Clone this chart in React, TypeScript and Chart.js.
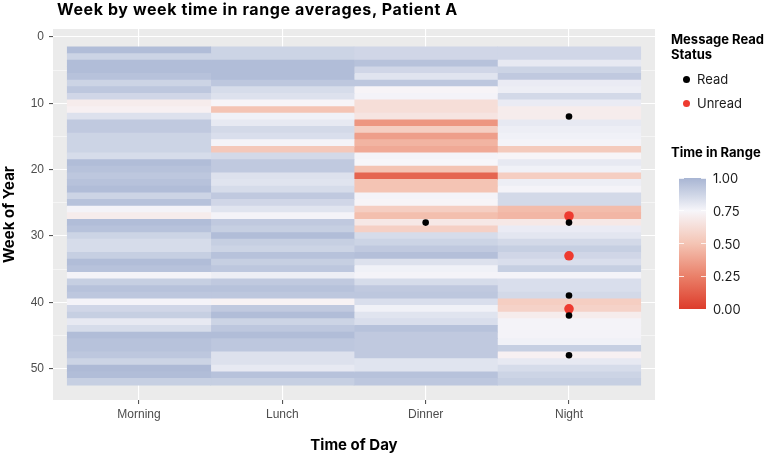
import React, { useEffect, useRef } from "react";
import { Chart, registerables } from "chart.js";

Chart.register(...registerables);

const chartTitle = "Week by week time in range averages, Patient A";
const categories = ["Morning", "Lunch", "Dinner", "Night"];
const weeks = [
  2, 3, 4, 5, 6, 7, 8, 9, 10, 11,
  12, 13, 14, 15, 16, 17, 18, 19, 20, 21,
  22, 23, 24, 25, 26, 27, 28, 29, 30, 31,
  32, 33, 34, 35, 36, 37, 38, 39, 40, 41,
  42, 43, 44, 45, 46, 47, 48, 49, 50, 51,
  52,
];
const morning = [
  0.97, 0.88, 0.97, 0.97, 0.95, 0.88, 0.93, 0.87, 0.70, 0.72,
  0.83, 0.92, 0.92, 0.88, 0.88, 0.88, 0.85, 0.97, 0.95, 0.93,
  0.95, 0.97, 0.88, 0.95, 0.76, 0.70, 0.97, 0.95, 0.88, 0.85,
  0.85, 0.90, 0.97, 0.95, 0.76, 0.90, 0.95, 0.93, 0.76, 0.87,
  0.90, 0.80, 0.85, 0.97, 0.95, 0.95, 0.93, 0.88, 0.98, 0.97,
  0.90,
];
const lunch = [
  0.88, 0.88, 0.97, 0.97, 0.97, 0.93, 0.85, 0.83, 0.74, 0.50,
  0.77, 0.80, 0.86, 0.84, 0.76, 0.52, 0.86, 0.92, 0.92, 0.83,
  0.82, 0.85, 0.92, 0.87, 0.82, 0.76, 0.92, 0.90, 0.97, 0.90,
  0.88, 0.95, 0.90, 0.93, 0.78, 0.92, 0.95, 0.93, 0.73, 0.92,
  0.97, 0.88, 0.93, 0.97, 0.93, 0.93, 0.83, 0.83, 0.80, 0.95,
  0.90,
];
const dinner = [
  0.87, 0.87, 0.95, 0.87, 0.82, 0.93, 0.74, 0.76, 0.63, 0.63,
  0.66, 0.33, 0.55, 0.36, 0.44, 0.40, 0.76, 0.75, 0.50, 0.15,
  0.50, 0.50, 0.76, 0.74, 0.55, 0.48, 0.68, 0.56, 0.85, 0.88,
  0.92, 0.96, 0.83, 0.77, 0.76, 0.85, 0.92, 0.93, 0.84, 0.77,
  0.82, 0.84, 0.95, 0.92, 0.92, 0.92, 0.92, 0.82, 0.82, 0.95,
  0.93,
];
const night = [
  0.87, 0.87, 0.80, 0.88, 0.92, 0.79, 0.78, 0.86, 0.79, 0.70,
  0.70, 0.80, 0.78, 0.77, 0.76, 0.53, 0.74, 0.80, 0.77, 0.55,
  0.78, 0.76, 0.86, 0.86, 0.47, 0.45, 0.68, 0.79, 0.81, 0.86,
  0.90, 0.87, 0.84, 0.90, 0.76, 0.84, 0.84, 0.86, 0.55, 0.57,
  0.70, 0.76, 0.76, 0.76, 0.77, 0.90, 0.72, 0.80, 0.85, 0.88,
  0.90,
];
const readTime = ["Night", "Dinner", "Night", "Night", "Night", "Night"];
const readWeek = [12, 28, 28, 39, 42, 48];
const unreadTime = ["Night", "Night", "Night"];
const unreadWeek = [27, 33, 41];
const yMajorTicks = [0, 10, 20, 30, 40, 50];
const yMinorTicks = [5, 15, 25, 35, 45];
const legendValues = [1.0, 0.75, 0.5, 0.25, 0.0];

const colorStops: [number, number[]][] = [
  [0, [221, 60, 43]],
  [0.25, [234, 128, 105]],
  [0.5, [244, 196, 180]],
  [0.75, [247, 246, 250]],
  [0.875, [206, 213, 230]],
  [1, [168, 181, 211]],
];

function tirColor(v: number): string {
  const t = Math.max(0, Math.min(1, v));
  for (let i = 1; i < colorStops.length; i++) {
    const [p1, c1] = colorStops[i];
    const [p0, c0] = colorStops[i - 1];
    if (t <= p1) {
      const f = (t - p0) / (p1 - p0);
      const c = c0.map((a, k) => Math.round(a + (c1[k] - a) * f));
      return `rgb(${c[0]},${c[1]},${c[2]})`;
    }
  }
  const c = colorStops[colorStops.length - 1][1];
  return `rgb(${c[0]},${c[1]},${c[2]})`;
}

const READ_COLOR = "#000000";
const UNREAD_COLOR = "#ee3b30";
const TICK_FONT = { family: "'Liberation Sans', Arial, sans-serif", size: 12 };
const TITLE_FONT = "Inter, 'Liberation Sans', sans-serif";

export default function App() {
  const canvasRef = useRef<HTMLCanvasElement | null>(null);

  useEffect(() => {
    document.body.style.margin = "0";
    const canvas = canvasRef.current;
    if (!canvas) return;
    const series = [morning, lunch, dinner, night];

    const panelBg = {
      id: "panelBg",
      beforeDraw(chart: any) {
        const { ctx, chartArea: a } = chart;
        ctx.save();
        ctx.fillStyle = "#ebebeb";
        ctx.fillRect(a.left, a.top, a.right - a.left, a.bottom - a.top);
        ctx.restore();
      },
    };

    const barSets = series.map((vals, ci) => ({
      type: "bar" as const,
      label: categories[ci],
      data: vals.map((v, i) => ({ x: ci + 1, y: [weeks[i] - 0.5, weeks[i] + 0.5] })),
      backgroundColor: vals.map(tirColor),
      borderWidth: 0,
      barPercentage: 1,
      categoryPercentage: 1,
      grouped: false,
      inflateAmount: 0.4,
      order: 2,
    }));

    const chart = new Chart(canvas, {
      type: "bar",
      data: {
        datasets: [
          ...barSets,
          {
            type: "scatter" as const,
            label: "Unread",
            data: unreadWeek.map((w, i) => ({ x: categories.indexOf(unreadTime[i]) + 1, y: w })),
            pointRadius: 4.8,
            backgroundColor: UNREAD_COLOR,
            borderWidth: 0,
            order: 1,
          },
          {
            type: "scatter" as const,
            label: "Read",
            data: readWeek.map((w, i) => ({ x: categories.indexOf(readTime[i]) + 1, y: w })),
            pointRadius: 3.3,
            backgroundColor: READ_COLOR,
            borderWidth: 0,
            order: 0,
          },
        ] as any,
      },
      options: {
        responsive: false,
        animation: false,
        events: [],
        devicePixelRatio: 1,
        layout: { padding: { top: 29, right: 109, bottom: 0, left: 0 } },
        plugins: {
          legend: { display: false },
          tooltip: { enabled: false },
          title: { display: false },
        },
        scales: {
          x: {
            type: "linear",
            offset: false,
            min: 0.4,
            max: 4.6,
            afterBuildTicks: (s: any) => {
              s.ticks = categories.map((_, i) => ({ value: i + 1 }));
            },
            afterFit: (s: any) => {
              s.height = 56;
            },
            ticks: {
              callback: (v: any) => categories[Number(v) - 1] ?? "",
              font: TICK_FONT,
              color: "#4d4d4d",
              padding: 3,
              autoSkip: false,
              maxRotation: 0,
            },
            grid: { offset: false, color: "#ffffff", lineWidth: 1.1, tickColor: "#555555", tickLength: 4 },
            border: { display: false },
            title: {
              display: true,
              text: "Time of Day",
              font: { family: TITLE_FONT, weight: "bold", size: 15 },
              color: "#000000",
              padding: { top: 0, bottom: 2 },
            },
          },
          y: {
            type: "linear",
            reverse: true,
            min: -1.2,
            max: 54.75,
            afterBuildTicks: (s: any) => {
              s.ticks = [...yMajorTicks, ...yMinorTicks]
                .sort((a, b) => a - b)
                .map((v) => ({ value: v }));
            },
            afterFit: (s: any) => {
              s.width = 53;
            },
            ticks: {
              callback: (v: any) => (yMajorTicks.includes(Number(v)) ? String(v) : ""),
              font: TICK_FONT,
              color: "#4d4d4d",
              padding: 5,
              autoSkip: false,
            },
            grid: {
              color: "#ffffff",
              lineWidth: (ctx: any) => (yMajorTicks.includes(ctx.tick?.value) ? 1.1 : 0.5),
              tickColor: (ctx: any) =>
                yMajorTicks.includes(ctx.tick?.value) ? "#555555" : "rgba(0,0,0,0)",
              tickLength: 4,
            },
            border: { display: false },
            title: {
              display: true,
              text: "Week of Year",
              font: { family: TITLE_FONT, weight: "bold", size: 15 },
              color: "#000000",
              padding: { top: 0, bottom: 0 },
            },
          },
        },
      } as any,
      plugins: [panelBg],
    });
    return () => chart.destroy();
  }, []);

  const barTop = 178;
  const barHeight = 131;
  const gradient = `linear-gradient(to bottom, ${[1, 0.875, 0.75, 0.5, 0.25, 0]
    .map((v) => `${tirColor(v)} ${((1 - v) * 100).toFixed(1)}%`)
    .join(", ")})`;

  const legendText: React.CSSProperties = {
    position: "absolute",
    fontFamily: TITLE_FONT,
    fontSize: 13,
    color: "#1a1a1a",
    lineHeight: "16px",
    whiteSpace: "nowrap",
  };

  return (
    <div style={{ position: "relative", width: 764, height: 456, background: "#ffffff", overflow: "hidden" }}>
      <canvas ref={canvasRef} width={764} height={456} style={{ position: "absolute", left: 0, top: 0, width: 764, height: 456 }} />
      <div
        style={{
          position: "absolute",
          left: 57,
          top: 0,
          fontFamily: TITLE_FONT,
          fontWeight: 700,
          fontSize: 16,
          letterSpacing: 0.6,
          lineHeight: "18px",
          color: "#000",
          whiteSpace: "nowrap",
        }}
      >
        {chartTitle}
      </div>
      <div style={{ ...legendText, left: 671, top: 32, fontWeight: 700, lineHeight: "15px", color: "#000" }}>
        Message Read
        <br />
        Status
      </div>
      {[
        { label: "Read", color: READ_COLOR, y: 79 },
        { label: "Unread", color: UNREAD_COLOR, y: 103 },
      ].map((k) => (
        <React.Fragment key={k.label}>
          <div
            style={{
              position: "absolute",
              left: 682.5,
              top: k.y - 3.5,
              width: 7,
              height: 7,
              borderRadius: "50%",
              background: k.color,
            }}
          />
          <div style={{ ...legendText, left: 697, top: k.y - 8 }}>{k.label}</div>
        </React.Fragment>
      ))}
      <div style={{ ...legendText, left: 671, top: 144, fontWeight: 700, color: "#000" }}>Time in Range</div>
      <div
        style={{
          position: "absolute",
          left: 679,
          top: barTop,
          width: 27,
          height: barHeight,
          background: gradient,
        }}
      />
      {legendValues.map((v) => {
        const y = barTop + (1 - v) * barHeight;
        return (
          <React.Fragment key={v}>
            <div style={{ position: "absolute", left: 679, top: y - 0.5, width: 5, height: 1, background: "rgba(255,255,255,0.8)" }} />
            <div style={{ position: "absolute", left: 701, top: y - 0.5, width: 5, height: 1, background: "rgba(255,255,255,0.8)" }} />
            <div style={{ ...legendText, left: 713, top: y - 8 }}>{v.toFixed(2)}</div>
          </React.Fragment>
        );
      })}
    </div>
  );
}
